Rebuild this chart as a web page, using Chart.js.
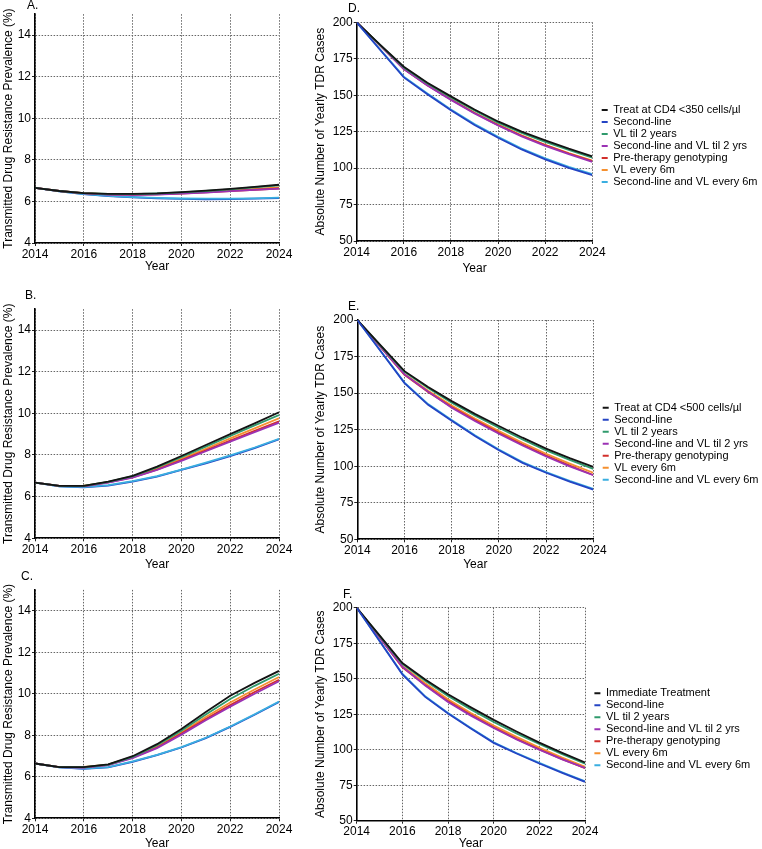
<!DOCTYPE html>
<html>
<head>
<meta charset="utf-8">
<script src="https://cdn.jsdelivr.net/npm/chart.js@4/dist/chart.umd.min.js"></script>
<style>
html,body{margin:0;padding:0;background:#fff;width:762px;height:849px;overflow:hidden;position:relative}
canvas{position:absolute}
</style>
</head>
<body>
<canvas id="cA"></canvas>
<canvas id="cB"></canvas>
<canvas id="cC"></canvas>
<canvas id="cD"></canvas>
<canvas id="cE"></canvas>
<canvas id="cF"></canvas>
<script>
// ---------------- DATA ----------------
const years = [2014, 2015, 2016, 2017, 2018, 2019, 2020, 2021, 2022, 2023, 2024];
const yearTicks = [2014, 2016, 2018, 2020, 2022, 2024];
const prevalenceTicks = [4, 6, 8, 10, 12, 14];
const caseTicks = [50, 75, 100, 125, 150, 175, 200];

const commonLabels = ['Second-line', 'VL til 2 years', 'Second-line and VL til 2 yrs',
  'Pre-therapy genotyping', 'VL every 6m', 'Second-line and VL every 6m'];
const treatLabelD = 'Treat at CD4 <350 cells/\u00b5l';
const treatLabelE = 'Treat at CD4 <500 cells/\u00b5l';
const treatLabelF = 'Immediate Treatment';

// Panel A: TDR prevalence (%), treat at CD4 <350
const A_treat  = [6.65, 6.50, 6.40, 6.36, 6.36, 6.39, 6.45, 6.52, 6.60, 6.70, 6.80];
const A_sl     = [6.65, 6.48, 6.35, 6.26, 6.20, 6.15, 6.12, 6.10, 6.11, 6.13, 6.16];
const A_vl2y   = [6.65, 6.50, 6.40, 6.36, 6.35, 6.38, 6.43, 6.50, 6.58, 6.68, 6.77];
const A_slvl2y = [6.65, 6.50, 6.39, 6.33, 6.31, 6.33, 6.37, 6.42, 6.49, 6.55, 6.61];
const A_geno   = [6.65, 6.50, 6.40, 6.34, 6.32, 6.34, 6.38, 6.43, 6.50, 6.56, 6.62];
const A_vl6m   = [6.65, 6.50, 6.40, 6.35, 6.34, 6.36, 6.40, 6.46, 6.53, 6.60, 6.67];
const A_slvl6m = [6.65, 6.48, 6.35, 6.27, 6.21, 6.17, 6.14, 6.13, 6.13, 6.15, 6.18];

// Panel B: TDR prevalence (%), treat at CD4 <500
const B_treat  = [6.67, 6.52, 6.52, 6.72, 7.00, 7.44, 7.95, 8.48, 9.00, 9.52, 10.05];
const B_sl     = [6.67, 6.50, 6.45, 6.53, 6.72, 6.96, 7.28, 7.60, 7.95, 8.33, 8.75];
const B_vl2y   = [6.67, 6.52, 6.52, 6.71, 6.98, 7.40, 7.89, 8.40, 8.91, 9.42, 9.92];
const B_slvl2y = [6.67, 6.52, 6.50, 6.67, 6.91, 7.28, 7.72, 8.18, 8.64, 9.10, 9.55];
const B_geno   = [6.67, 6.52, 6.51, 6.68, 6.93, 7.30, 7.75, 8.22, 8.69, 9.16, 9.62];
const B_vl6m   = [6.67, 6.52, 6.53, 6.70, 6.96, 7.35, 7.82, 8.30, 8.80, 9.28, 9.76];
const B_slvl6m = [6.67, 6.50, 6.46, 6.55, 6.74, 6.98, 7.30, 7.63, 7.98, 8.36, 8.78];

// Panel C: TDR prevalence (%), immediate treatment
const C_treat  = [6.64, 6.46, 6.46, 6.60, 6.99, 7.57, 8.30, 9.12, 9.90, 10.52, 11.10];
const C_sl     = [6.64, 6.45, 6.38, 6.45, 6.72, 7.04, 7.41, 7.86, 8.40, 8.99, 9.60];
const C_vl2y   = [6.64, 6.46, 6.46, 6.59, 6.96, 7.52, 8.22, 9.00, 9.75, 10.38, 10.96];
const C_slvl2y = [6.64, 6.46, 6.44, 6.56, 6.90, 7.38, 8.03, 8.72, 9.38, 10.00, 10.60];
const C_geno   = [6.64, 6.46, 6.45, 6.57, 6.92, 7.41, 8.08, 8.78, 9.45, 10.08, 10.67];
const C_vl6m   = [6.64, 6.46, 6.47, 6.58, 6.93, 7.45, 8.13, 8.88, 9.58, 10.20, 10.80];
const C_slvl6m = [6.64, 6.45, 6.39, 6.46, 6.74, 7.06, 7.43, 7.88, 8.42, 9.01, 9.62];

// Panel D: yearly TDR cases, treat at CD4 <350
const D_treat  = [200, 184.5, 169.5, 158.5, 149.2, 140.2, 132.0, 125.0, 119.0, 113.3, 108.0];
const D_sl     = [200, 181.0, 162.2, 150.7, 139.7, 129.6, 120.8, 112.8, 106.0, 100.2, 95.2];
const D_vl2y   = [200, 184.3, 169.0, 158.0, 148.5, 139.5, 131.2, 124.2, 118.0, 112.5, 107.2];
const D_slvl2y = [200, 184.0, 168.0, 156.6, 146.8, 137.5, 129.2, 121.8, 115.3, 109.6, 104.3];
const D_geno   = [200, 184.0, 168.0, 156.8, 147.0, 137.8, 129.5, 122.2, 115.7, 110.0, 104.8];
const D_vl6m   = [200, 184.0, 168.2, 157.0, 147.2, 138.0, 129.8, 122.5, 116.0, 110.3, 105.2];
const D_slvl6m = [200, 181.2, 162.7, 151.2, 140.2, 130.2, 121.4, 113.4, 106.7, 100.9, 95.8];

// Panel E: yearly TDR cases, treat at CD4 <500
const E_treat  = [200, 182.5, 165.0, 154.2, 144.5, 135.6, 127.5, 119.5, 112.0, 105.5, 99.5];
const E_sl     = [200, 178.4, 156.8, 142.0, 131.1, 120.5, 110.9, 102.3, 95.5, 89.5, 84.0];
const E_vl2y   = [200, 182.2, 164.5, 153.5, 143.5, 134.5, 126.3, 118.3, 110.8, 104.3, 98.2];
const E_slvl2y = [200, 181.4, 162.8, 151.0, 140.0, 130.8, 122.2, 114.2, 106.6, 99.9, 93.8];
const E_geno   = [200, 181.3, 162.5, 150.8, 140.5, 131.4, 122.8, 114.8, 107.2, 100.4, 94.0];
const E_vl6m   = [200, 181.5, 163.0, 151.6, 141.5, 132.5, 124.0, 116.0, 108.5, 101.8, 95.5];
const E_slvl6m = [200, 178.6, 157.2, 142.5, 131.6, 121.0, 111.4, 102.8, 96.0, 90.0, 84.5];

// Panel F: yearly TDR cases, immediate treatment
const F_treat  = [200, 180.5, 161.0, 149.5, 139.0, 129.8, 121.0, 112.8, 105.0, 97.8, 91.0];
const F_sl     = [200, 176.5, 153.1, 137.2, 125.5, 114.9, 104.8, 97.3, 90.3, 83.7, 77.4];
const F_vl2y   = [200, 180.2, 160.5, 148.6, 137.8, 128.4, 119.5, 111.5, 104.0, 96.8, 90.2];
const F_slvl2y = [200, 179.2, 158.5, 145.2, 133.6, 124.0, 115.3, 107.2, 100.0, 93.2, 87.2];
const F_geno   = [200, 179.0, 158.0, 145.5, 134.2, 124.6, 115.8, 107.6, 100.2, 93.4, 87.0];
const F_vl6m   = [200, 179.5, 159.0, 146.8, 135.5, 125.8, 117.0, 109.0, 101.5, 94.5, 88.0];
const F_slvl6m = [200, 176.8, 153.5, 137.6, 125.9, 115.3, 105.2, 97.7, 90.7, 84.1, 77.8];

// ---------------- STYLE ----------------
const seriesColors = ['#141414', '#2444c4', '#2f9a6c', '#9b32b4', '#d22f2b', '#f5902f', '#3aaee0'];
const FONT = "'Liberation Sans', Arial, Helvetica, sans-serif";
Chart.defaults.font.family = FONT;
Chart.defaults.font.size = 12;
Chart.defaults.color = '#000';

const GAP_W = 8.4, LEG_W = 160, LEG_PR = 2;

const prevTitle = 'Transmitted Drug Resistance Prevalence (%)';
const caseTitle = 'Absolute Number of Yearly TDR Cases';

const panels = [
  {id:'cA', letter:'A.', ldx:8, ldy:9, left:0, top:0, width:294, plotTop:14.2, plotBottom:243, plotRight:279, yW:34, padL:1, xH:31.2,
   yMin:4, yMax:15, yTicks:prevalenceTicks, yTitle:prevTitle, treatLabel:treatLabelD,
   series:[A_treat, A_sl, A_vl2y, A_slvl2y, A_geno, A_vl6m, A_slvl6m]},
  {id:'cB', letter:'B.', ldx:10, ldy:13.7, left:0, top:285, width:294, plotTop:309.2, plotBottom:538.3, plotRight:279, yW:34, padL:1, xH:33.9,
   yMin:4, yMax:15, yTicks:prevalenceTicks, yTitle:prevTitle, treatLabel:treatLabelE,
   series:[B_treat, B_sl, B_vl2y, B_slvl2y, B_geno, B_vl6m, B_slvl6m]},
  {id:'cC', letter:'C.', ldx:14, ldy:12.9, left:0, top:565, width:294, plotTop:589.9, plotBottom:818.3, plotRight:279, yW:34, padL:1, xH:32.2,
   yMin:4, yMax:15, yTicks:prevalenceTicks, yTitle:prevTitle, treatLabel:treatLabelF,
   series:[C_treat, C_sl, C_vl2y, C_slvl2y, C_geno, C_vl6m, C_slvl6m]},
  {id:'cD', letter:'D.', ldx:8.7, ldy:13.3, left:313, top:0, legend:true, legendOffset:81.2, plotTop:22.3, plotBottom:241, plotRight:592.3, yW:43.7, padL:0, xH:34.5,
   yMin:50, yMax:200, yTicks:caseTicks, yTitle:caseTitle, treatLabel:treatLabelD,
   series:[D_treat, D_sl, D_vl2y, D_slvl2y, D_geno, D_vl6m, D_slvl6m]},
  {id:'cE', letter:'E.', ldx:9.3, ldy:13.5, left:313, top:285, legend:true, legendOffset:81.2, plotTop:320, plotBottom:539.3, plotRight:593.3, yW:44.3, padL:0, xH:32.9,
   yMin:50, yMax:200, yTicks:caseTicks, yTitle:caseTitle, treatLabel:treatLabelE,
   series:[E_treat, E_sl, E_vl2y, E_slvl2y, E_geno, E_vl6m, E_slvl6m]},
  {id:'cF', letter:'F.', ldx:13.7, ldy:12.7, left:313, top:565, legend:true, legendOffset:79.1, plotTop:607.7, plotBottom:820.7, plotRight:585, yW:43.7, padL:0, xH:29.8,
   yMin:50, yMax:200, yTicks:caseTicks, yTitle:caseTitle, treatLabel:treatLabelF,
   series:[F_treat, F_sl, F_vl2y, F_slvl2y, F_geno, F_vl6m, F_slvl6m]}
];

const letterPlugin = {
  id: 'panelLetter',
  afterDraw(chart, args, opts) {
    const {ctx, chartArea} = chart;
    ctx.save();
    ctx.font = '12px ' + FONT;
    ctx.fillStyle = '#000';
    ctx.textAlign = 'left';
    ctx.textBaseline = 'middle';
    ctx.fillText(opts.text, chartArea.left - opts.dx, chartArea.top - opts.dy);
    ctx.restore();
  }
};

const gridStyle = {color: '#666666', lineWidth: 1, drawTicks: true, tickLength: 3, tickColor: '#222'};
const borderStyle = {color: '#000', width: 1.6, dash: [1.5, 1.5]};

function makePanel(p) {
  const cv = document.getElementById(p.id);
  const plotRightLocal = p.plotRight - p.left;
  const width = p.legend ? Math.ceil(plotRightLocal + GAP_W + LEG_W + LEG_PR) : p.width;
  const padR = p.legend ? width - plotRightLocal - GAP_W - LEG_W : width - plotRightLocal;
  const height = Math.round(p.plotBottom + p.xH - p.top);
  const xH = height - (p.plotBottom - p.top);
  cv.width = width; cv.height = height;
  cv.style.left = p.left + 'px'; cv.style.top = p.top + 'px';
  cv.style.width = width + 'px'; cv.style.height = height + 'px';

  const labels = [p.treatLabel].concat(commonLabels);
  // right panels: dark blue drawn over light blue; left panels: light blue on top
  const blueOrder = p.legend ? -1 : 1;
  const datasets = p.series.map((vals, i) => ({
    label: labels[i],
    data: years.map((yr, k) => ({x: yr, y: vals[k]})),
    borderColor: seriesColors[i],
    backgroundColor: seriesColors[i],
    borderWidth: 1.8,
    pointRadius: 0,
    pointHoverRadius: 0,
    pointBorderWidth: 2,
    tension: 0,
    fill: false,
    order: i === 1 ? blueOrder : 0,
    xAxisID: 'x',
    yAxisID: 'y'
  }));

  const scales = {
    x: {
      type: 'linear', min: years[0], max: years[years.length - 1], bounds: 'data',
      afterBuildTicks: s => { s.ticks = yearTicks.map(v => ({value: v})); },
      ticks: {callback: v => String(v), color: '#000', padding: 1, maxRotation: 0, autoSkip: false, font: {size: 12}},
      grid: gridStyle, border: borderStyle,
      title: {display: true, text: 'Year', color: '#000', font: {size: 12}, padding: 0},
      afterFit: s => { s.height = xH; }
    },
    y: {
      type: 'linear', position: 'left', min: p.yMin, max: p.yMax, bounds: 'data',
      afterBuildTicks: s => { s.ticks = p.yTicks.map(v => ({value: v})); },
      ticks: {callback: v => String(v), color: '#000', padding: 1, font: {size: 12}},
      grid: gridStyle, border: borderStyle,
      title: {display: true, text: p.yTitle, color: '#000', font: {size: 12}, padding: 0},
      afterFit: s => { s.width = p.yW; }
    }
  };
  if (p.legend) {
    scales.gap = {
      type: 'linear', position: 'right', display: true,
      grid: {display: false, drawOnChartArea: false, drawTicks: false},
      border: {display: false},
      ticks: {display: false},
      afterFit: s => { s.width = GAP_W; }
    };
  }

  new Chart(cv, {
    type: 'line',
    data: {datasets},
    plugins: [letterPlugin],
    options: {
      responsive: false,
      animation: false,
      devicePixelRatio: 1,
      layout: {padding: {left: p.padL, right: padR, top: p.plotTop - p.top, bottom: 0}},
      scales,
      plugins: {
        tooltip: {enabled: false},
        panelLetter: {text: p.letter, dx: p.ldx, dy: p.ldy},
        legend: p.legend ? {
          display: true, position: 'right', align: 'start', maxWidth: LEG_W,
          title: {display: true, text: '', font: {size: 10, lineHeight: 1}, padding: {top: p.legendOffset - 10, bottom: 0}},
          labels: {
            usePointStyle: true, pointStyle: 'line', pointStyleWidth: 6, boxHeight: 11,
            padding: 1, color: '#000', font: {size: 11},
            sort: (a, b) => a.datasetIndex - b.datasetIndex
          }
        } : {display: false}
      }
    }
  });
}

panels.forEach(makePanel);
</script>
</body>
</html>
